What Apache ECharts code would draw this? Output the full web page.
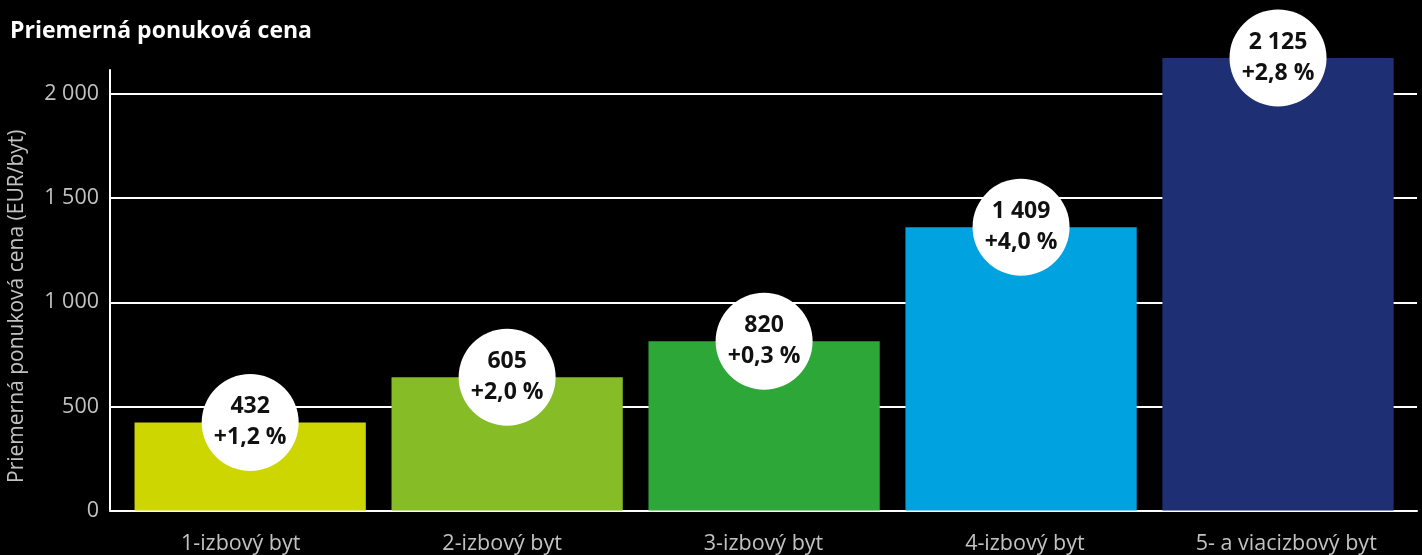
<!DOCTYPE html>
<html>
<head>
<meta charset="utf-8">
<script src="https://cdn.jsdelivr.net/npm/echarts@6/dist/echarts.min.js"></script>
<style>
html,body{margin:0;padding:0;background:#000;}
#chart{width:1422px;height:555px;}
</style>
</head>
<body>
<div id="chart"></div>
<script>
const categories = ['1-izbový byt', '2-izbový byt', '3-izbový byt', '4-izbový byt', '5- a viacizbový byt'];
const barValues = [423, 640, 813, 1361, 2174];
const priceLabels = ['432', '605', '820', '1 409', '2 125'];
const changeLabels = ['+1,2 %', '+2,0 %', '+0,3 %', '+4,0 %', '+2,8 %'];
const yMin = 0;
const yMax = 2116;
const yInterval = 500;

const barColors = ['#cdd600', '#86bc25', '#2da737', '#00a3e0', '#1e2f73'];
const FONT = 'Open Sans';
const GRAY = '#c2c2c2';

function fmt(v) { return String(v).replace(/\B(?=(\d{3})+(?!\d))/g, ' '); }

const chart = echarts.init(document.getElementById('chart'));
chart.setOption({
  backgroundColor: '#000',
  animation: false,
  title: {
    text: 'Priemerná ponuková cena',
    left: 10, top: 20, padding: 0,
    textStyle: { color: '#fff', fontFamily: FONT, fontWeight: 'bold', fontSize: 23 }
  },
  grid: [
    { left: 110, right: 5, top: 70, bottom: 44.5, outerBoundsMode: 'none', containLabel: false },
    { left: 121.7, right: 15.5, top: 70, bottom: 44.5, outerBoundsMode: 'none', containLabel: false }
  ],
  xAxis: [
    { gridIndex: 0, type: 'category', data: categories, boundaryGap: true,
      axisLine: { show: true, lineStyle: { color: '#fff', width: 2 } },
      axisTick: { show: false }, splitLine: { show: false },
      axisLabel: { color: GRAY, fontFamily: FONT, fontSize: 21.5, margin: 22 } },
    { gridIndex: 1, type: 'category', data: categories,
      axisLine: { show: false }, axisTick: { show: false }, axisLabel: { show: false } }
  ],
  yAxis: [
    { gridIndex: 0, type: 'value', min: yMin, max: yMax, interval: yInterval,
      name: 'Priemerná ponuková cena (EUR/byt)', nameLocation: 'middle', nameGap: 82,
      nameTextStyle: { color: GRAY, fontFamily: FONT, fontSize: 21, padding: [0, 32, 0, 0] },
      axisLine: { show: true, lineStyle: { color: '#fff', width: 2 } },
      axisTick: { show: false },
      axisLabel: { color: GRAY, fontFamily: FONT, fontSize: 21.5, margin: 11, showMaxLabel: false, formatter: fmt },
      splitLine: { show: true, showMaxLine: false, lineStyle: { color: '#fff', width: 2 } } },
    { gridIndex: 1, type: 'value', min: yMin, max: yMax, interval: yInterval, show: false,
      splitLine: { show: false } }
  ],
  series: [
    { type: 'bar', xAxisIndex: 1, yAxisIndex: 1, clip: false, barCategoryGap: '10%',
      data: barValues.map((v, i) => ({ value: v, itemStyle: { color: barColors[i] } })) },
    { type: 'scatter', xAxisIndex: 1, yAxisIndex: 1, clip: false, symbol: 'circle', symbolSize: 97, z: 5,
      itemStyle: { color: '#fff', opacity: 1 },
      label: { show: true, position: 'inside', color: '#111', fontFamily: FONT, fontWeight: 'bold', fontSize: 23, lineHeight: 31,
        formatter: p => priceLabels[p.dataIndex] + '\n' + changeLabels[p.dataIndex] },
      data: barValues.map((v, i) => [i, v]) }
  ]
});
</script>
</body>
</html>
